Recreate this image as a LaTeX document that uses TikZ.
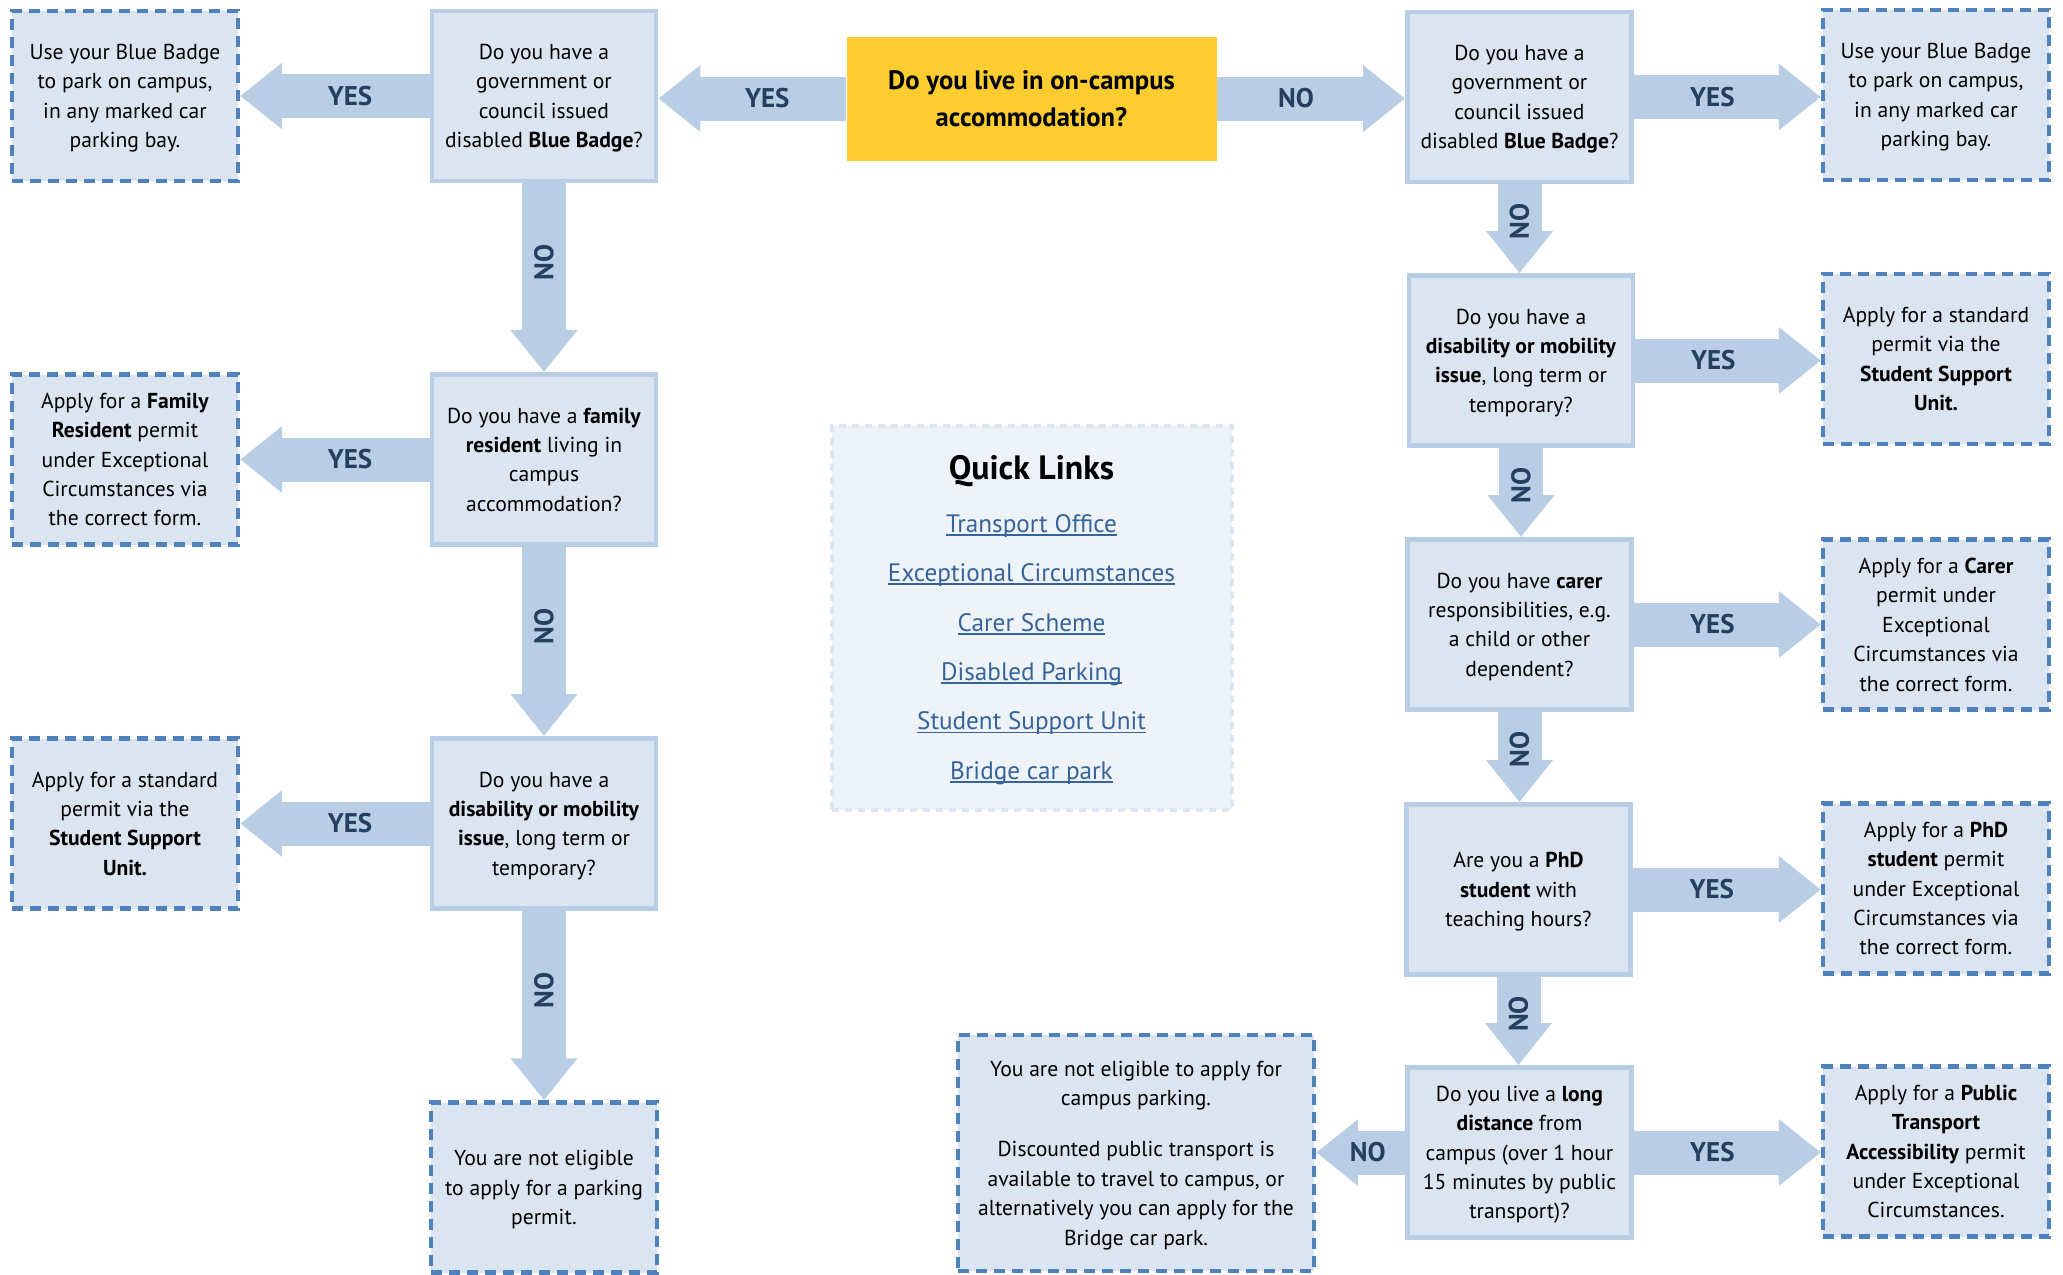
\documentclass[tikz,border=0pt]{standalone}
\usepackage{fontspec}
\setmainfont{PT Sans}
\usetikzlibrary{arrows.meta}
\definecolor{qfill}{HTML}{DBE5F1}
\definecolor{qborder}{HTML}{B9CDE5}
\definecolor{oborder}{HTML}{4F81BD}
\definecolor{arrowblue}{HTML}{B9CDE5}
\definecolor{labblue}{HTML}{243F60}
\definecolor{startyellow}{HTML}{FDCC31}
\definecolor{linkblue}{HTML}{36639A}
\definecolor{qlfill}{HTML}{EEF3F9}
\definecolor{qlborder}{HTML}{DCE6F2}
\newcommand{\bodyfont}{\fontsize{10.8}{14.7}\selectfont}
\newcommand{\qlink}[1]{\setbox0\hbox{#1}\rlap{\rule[-1.8pt]{\wd0}{0.9pt}}\box0}
\tikzset{
  question/.style={draw=qborder, line width=2.4pt, fill=qfill, minimum width=112pt, minimum height=85pt, align=center, font=\bodyfont, inner sep=2pt, text depth=0pt},
  outcome/.style={draw=oborder, line width=2.2pt, dash pattern=on 5.5pt off 3.5pt, fill=qfill, minimum width=113pt, minimum height=85pt, align=center, font=\bodyfont, inner sep=2pt, text depth=0pt},
  flow/.style={draw=arrowblue, line width=22pt, -{Triangle[length=21pt,width=32pt]}},
  lab/.style={text=labblue, font=\fontsize{13.5}{16}\selectfont\bfseries, pos=0.42}
}

\begin{document}
\begin{tikzpicture}[x=0.5pt, y=-0.5pt]
  \useasboundingbox (0,0) rectangle (2063,1275);
  \path (1031.5,98.5) node[fill=startyellow, minimum width=185pt, minimum height=62pt, align=center, font=\fontsize{13.3}{18.4}\selectfont\bfseries](start) {Do you live in on-campus\\accommodation?}
        (544,96) node[question](qL1) {Do you have a\\government or\\council issued\\disabled \textbf{Blue Badge}?}
        (125,96) node[outcome](resL1) {Use your Blue Badge\\to park on campus,\\in any marked car\\parking bay.}
        (544,459.5) node[question](qL2) {Do you have a \textbf{family}\\\textbf{resident} living in\\campus\\accommodation?}
        (125,459.5) node[outcome](resL2) {Apply for a \textbf{Family}\\\textbf{Resident} permit\\under Exceptional\\Circumstances via\\the correct form.}
        (544,823.5) node[question](qL3) {Do you have a\\\textbf{disability or mobility}\\\textbf{issue}, long term or\\temporary?}
        (125,823.5) node[outcome](resL3) {Apply for a standard\\permit via the\\\textbf{Student Support}\\\textbf{Unit.}}
        (544,1187.5) node[outcome](resL4) {You are not eligible\\to apply for a parking\\permit.}
        (1519.5,97) node[question](qR1) {Do you have a\\government or\\council issued\\disabled \textbf{Blue Badge}?}
        (1936,95) node[outcome](resR1) {Use your Blue Badge\\to park on campus,\\in any marked car\\parking bay.}
        (1521,360.5) node[question](qR2) {Do you have a\\\textbf{disability or mobility}\\\textbf{issue}, long term or\\temporary?}
        (1936,359) node[outcome](resR2) {Apply for a standard\\permit via the\\\textbf{Student Support}\\\textbf{Unit.}}
        (1519.5,624.5) node[question](qR3) {Do you have \textbf{carer}\\responsibilities, e.g.\\a child or other\\dependent?}
        (1936,624.5) node[outcome](resR3) {Apply for a \textbf{Carer}\\permit under\\Exceptional\\Circumstances via\\the correct form.}
        (1518.5,889.5) node[question](qR4) {Are you a \textbf{PhD}\\\textbf{student} with\\teaching hours?}
        (1936,888.5) node[outcome](resR4) {Apply for a \textbf{PhD}\\\textbf{student} permit\\under Exceptional\\Circumstances via\\the correct form.}
        (1519.5,1152.5) node[question](qR5) {Do you live a \textbf{long}\\\textbf{distance} from\\campus (over 1 hour\\15 minutes by public\\transport)?}
        (1936,1151.5) node[outcome](resR5) {Apply for a \textbf{Public}\\\textbf{Transport}\\\textbf{Accessibility} permit\\under Exceptional\\Circumstances.}
        (1136,1153) node[outcome, minimum width=178pt, minimum height=118pt](resNone) {You are not eligible to apply for\\campus parking.\\[11pt]Discounted public transport is\\available to travel to campus, or\\alternatively you can apply for the\\Bridge car park.}
        (1031.5,617.5) node[draw=qlborder, line width=2pt, dash pattern=on 3.5pt off 3pt, fill=qlfill, minimum width=200pt, minimum height=192pt, align=center, text=linkblue, text depth=0pt, font=\fontsize{12.6}{24.7}\selectfont](links) {{\color{black}\fontsize{16.9}{20}\selectfont\bfseries Quick Links}\\[1.5pt]\qlink{Transport Office}\\\qlink{Exceptional Circumstances}\\\qlink{Carer Scheme}\\\qlink{Disabled Parking}\\\qlink{Student Support Unit}\\\qlink{Bridge car park}};
  \draw[flow] (start.west) -- node[lab] {YES} (start.west -| qL1.east);
  \draw[flow] (start.east) -- node[lab] {NO} (start.east -| qR1.west);
  \draw[flow] (qL1.west) -- node[lab] {YES} (qL1.west -| resL1.east);
  \draw[flow] (qL2.west) -- node[lab] {YES} (qL2.west -| resL2.east);
  \draw[flow] (qL3.west) -- node[lab] {YES} (qL3.west -| resL3.east);
  \draw[flow] (qL1.south) -- node[lab, rotate=90] {NO} (qL2.north);
  \draw[flow] (qL2.south) -- node[lab, rotate=90] {NO} (qL3.north);
  \draw[flow] (qL3.south) -- node[lab, rotate=90] {NO} (resL4.north);
  \draw[flow] (qR1.east) -- node[lab] {YES} (qR1.east -| resR1.west);
  \draw[flow] (qR2.east) -- node[lab] {YES} (qR2.east -| resR2.west);
  \draw[flow] (qR3.east) -- node[lab] {YES} (qR3.east -| resR3.west);
  \draw[flow] (qR4.east) -- node[lab] {YES} (qR4.east -| resR4.west);
  \draw[flow] (qR5.east) -- node[lab] {YES} (qR5.east -| resR5.west);
  \draw[flow] (qR1.south) -- node[lab, rotate=90] {NO} (qR1.south |- qR2.north);
  \draw[flow] (qR2.south) -- node[lab, rotate=90] {NO} (qR2.south |- qR3.north);
  \draw[flow] (qR3.south) -- node[lab, rotate=90] {NO} (qR3.south |- qR4.north);
  \draw[flow] (qR4.south) -- node[lab, rotate=90] {NO} (qR4.south |- qR5.north);
  \draw[flow] (qR5.west) -- node[lab] {NO} (qR5.west -| resNone.east);
\end{tikzpicture}
\end{document}
